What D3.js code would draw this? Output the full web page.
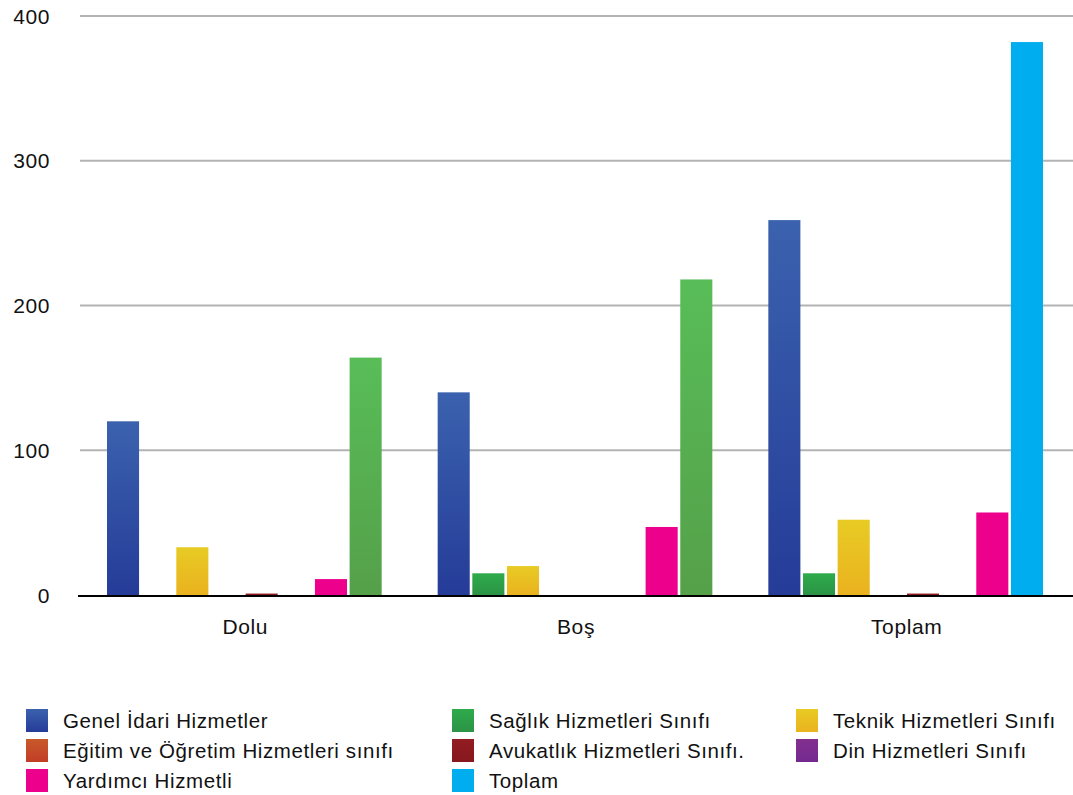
<html>
<head>
<meta http-equiv="content-type" content="text/html; charset=UTF8">
<title>Kadro Dağılımı</title>
</head>
<style type="text/css">
body { margin: 0; padding: 0; background: #fff; overflow: hidden; font-family: "Liberation Sans", Arial, sans-serif; }
text { fill: #111; letter-spacing: 0.6px; }
</style>
<body>
<div id="chart"></div>
<script type="text/javascript" src="https://cdnjs.cloudflare.com/ajax/libs/d3/7.8.5/d3.min.js"></script>
<script type="text/javascript">

var groups = ["Dolu", "Boş", "Toplam"];
var series = [
    "Genel İdari Hizmetler",
    "Sağlık Hizmetleri Sınıfı",
    "Teknik Hizmetleri Sınıfı",
    "Eğitim ve Öğretim Hizmetleri sınıfı",
    "Avukatlık Hizmetleri Sınıfı.",
    "Din Hizmetleri Sınıfı",
    "Yardımcı Hizmetli",
    "Toplam"
];
// one array per series, values for Dolu, Boş, Toplam
var genelIdari = [120, 140, 259];
var saglik     = [0, 15, 15];
var teknik     = [33, 20, 52];
var egitim     = [0, 0, 0];
var avukatlik  = [1, 0, 1];
var din        = [0, 0, 0];
var yardimci   = [11, 47, 57];
var toplam     = [164, 218, 382];
var yTicks = [0, 100, 200, 300, 400];

var values = [genelIdari, saglik, teknik, egitim, avukatlik, din, yardimci, toplam];

// top / bottom colours of each series
var colors = [
    ["#3b62ae", "#253c98"],
    ["#2eab4b", "#2b9346"],
    ["#e8cb24", "#eab21f"],
    ["#c85a2a", "#c23d27"],
    ["#921c22", "#86181d"],
    ["#82308f", "#74298f"],
    ["#ec008c", "#ec008c"],
    ["#00aeef", "#00aeef"]
];
// the "Toplam" bars in the first two groups come out green in the original
var toplamGreen = ["#58bd58", "#55a049"];

var width = 1073, height = 795;
var svg = d3.select("#chart").append("svg")
    .attr("width", width).attr("height", height);

var defs = svg.append("defs");
function grad(id, c) {
    var g = defs.append("linearGradient").attr("id", id)
        .attr("x1", 0).attr("y1", 0).attr("x2", 0).attr("y2", 1);
    g.append("stop").attr("offset", "0%").attr("stop-color", c[0]);
    g.append("stop").attr("offset", "100%").attr("stop-color", c[1]);
}
colors.forEach(function(c, i){ grad("g" + i, c); });
grad("gTotGreen", toplamGreen);

var x0 = d3.scaleBand().domain(groups).range([80, 1072]);
var x1 = d3.scaleBand().domain(series)
    .range([27, x0.bandwidth() - 29])
    .paddingInner(0.075);
var y = d3.scaleLinear().domain([0, 400]).range([595, 16]);

// gridlines
svg.append("g").selectAll("line")
    .data(yTicks.filter(function(d){ return d > 0; }))
    .enter().append("line")
    .attr("x1", 80).attr("x2", width)
    .attr("y1", function(d){ return y(d); })
    .attr("y2", function(d){ return y(d); })
    .attr("stroke", "#b3b3b3").attr("stroke-width", 2);

// y labels
svg.append("g").selectAll("text")
    .data(yTicks)
    .enter().append("text")
    .attr("x", 50)
    .attr("y", function(d){ return y(d); })
    .attr("dy", "0.36em")
    .attr("text-anchor", "end")
    .style("font-size", "21px")
    .text(function(d){ return d; });

// bars
var gGroups = svg.append("g").selectAll("g")
    .data(groups)
    .enter().append("g")
    .attr("transform", function(d){ return "translate(" + x0(d) + ",0)"; });

gGroups.selectAll("rect")
    .data(function(g, gi){
        return series.map(function(s, si){
            return { s: s, si: si, gi: gi, v: values[si][gi] };
        }).filter(function(d){ return d.v > 0; });
    })
    .enter().append("rect")
    .attr("x", function(d){ return x1(d.s); })
    .attr("width", x1.bandwidth())
    .attr("y", function(d){ return y(d.v); })
    .attr("height", function(d){ return y(0) - y(d.v); })
    .attr("fill", function(d){
        if (d.si === 7 && d.gi < 2) return "url(#gTotGreen)";
        return "url(#g" + d.si + ")";
    });

// baseline, drawn just under the bars
svg.append("line")
    .attr("x1", 78).attr("x2", width)
    .attr("y1", y(0) + 1).attr("y2", y(0) + 1)
    .attr("stroke", "#000").attr("stroke-width", 2);

// category labels
svg.append("g").selectAll("text")
    .data(groups)
    .enter().append("text")
    .attr("x", function(d){ return x0(d) + x0.bandwidth() / 2; })
    .attr("y", 634)
    .attr("text-anchor", "middle")
    .style("font-size", "21px")
    .text(function(d){ return d; });

// legend, three columns, filled row by row
var colX = [26, 452, 796];
var legend = svg.append("g").selectAll("g")
    .data(series)
    .enter().append("g")
    .attr("transform", function(d, i){
        return "translate(" + colX[i % 3] + "," + (709 + Math.floor(i / 3) * 30) + ")";
    });
legend.append("rect")
    .attr("width", 22).attr("height", 23)
    .attr("fill", function(d, i){ return "url(#g" + i + ")"; });
legend.append("text")
    .attr("x", 37).attr("y", 11.5)
    .attr("dy", "0.36em")
    .style("font-size", "20.5px")
    .text(function(d){ return d; });

</script>
</body>
</html>
